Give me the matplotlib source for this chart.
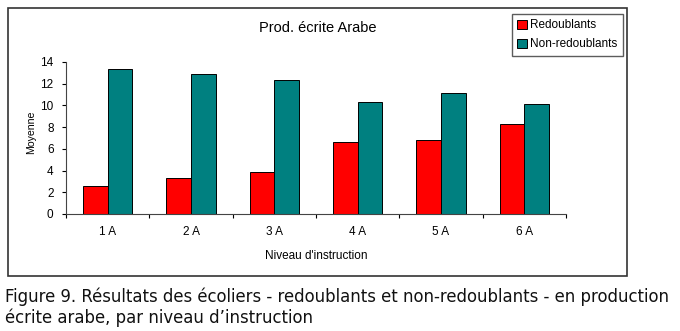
import numpy as np
import matplotlib
matplotlib.use('Agg')
import matplotlib.pyplot as plt
from matplotlib.patches import Rectangle

niveaux = ['1 A', '2 A', '3 A', '4 A', '5 A', '6 A']
redoublants = [2.6, 3.3, 3.9, 6.6, 6.8, 8.3]
non_redoublants = [13.35, 12.9, 12.3, 10.3, 11.1, 10.1]

plt.rcParams['font.family'] = ['Liberation Sans', 'DejaVu Sans']

fig = plt.figure(figsize=(6.8, 3.31), dpi=100)
fig.set_facecolor('white')

# cadre autour du graphique
fig.patches.append(Rectangle((0.0118, 0.166), 0.910, 0.810, transform=fig.transFigure,
                             fill=False, edgecolor='#333333', linewidth=1.2))

ax = fig.add_axes([0.0971, 0.3535, 0.7353, 0.4592])
x = np.arange(len(niveaux))
w = 0.296
ax.bar(x - w / 2, redoublants, w, color='#ff0000', edgecolor='black', linewidth=0.7, label='Redoublants')
ax.bar(x + w / 2, non_redoublants, w, color='#008080', edgecolor='black', linewidth=0.7, label='Non-redoublants')

ax.set_xlim(-0.5, len(niveaux) - 0.5)
ax.set_ylim(0, 14)
ax.set_yticks(range(0, 15, 2))
ax.set_xticks(np.arange(-0.5, len(niveaux)), minor=False)
ax.set_xticklabels([])
ax.set_xticks(x, minor=True)
ax.set_xticklabels(niveaux, minor=True, fontsize=8.5)
ax.tick_params(axis='x', which='minor', length=0, pad=9)
ax.tick_params(axis='x', which='major', length=3, direction='out')
ax.tick_params(axis='y', length=3, labelsize=8.5, pad=6)
ax.spines['top'].set_visible(False)
ax.spines['right'].set_visible(False)
ax.spines['left'].set_color('#444444')
ax.spines['bottom'].set_color('#444444')

ax.set_xlabel("Niveau d'instruction", fontsize=8.5, labelpad=8)
fig.text(31 / 680, 1 - 132 / 331, 'Moyenne', rotation=90, ha='center', va='center', fontsize=7.6)
fig.text(0.468, 0.915, 'Prod. écrite Arabe', ha='center', va='center', fontsize=10.5)

leg = fig.legend(loc='upper left', bbox_to_anchor=(0.753, 0.958), fontsize=8.5,
                 frameon=True, fancybox=False, handlelength=0.8, handleheight=0.8,
                 handletextpad=0.3, borderpad=0.45, labelspacing=0.6, borderaxespad=0)
leg.get_frame().set_edgecolor('#333333')
leg.get_frame().set_linewidth(1.0)

caption = ("Figure 9. Résultats des écoliers - redoublants et non-redoublants - en production\n"
           "écrite arabe, par niveau d’instruction")
fig.text(0.008, 0.071, caption, ha='left', va='center', fontsize=11.9,
         family=['DejaVu Sans'], linespacing=1.15, color='#111111')

fig.savefig('out.png', dpi=100)
